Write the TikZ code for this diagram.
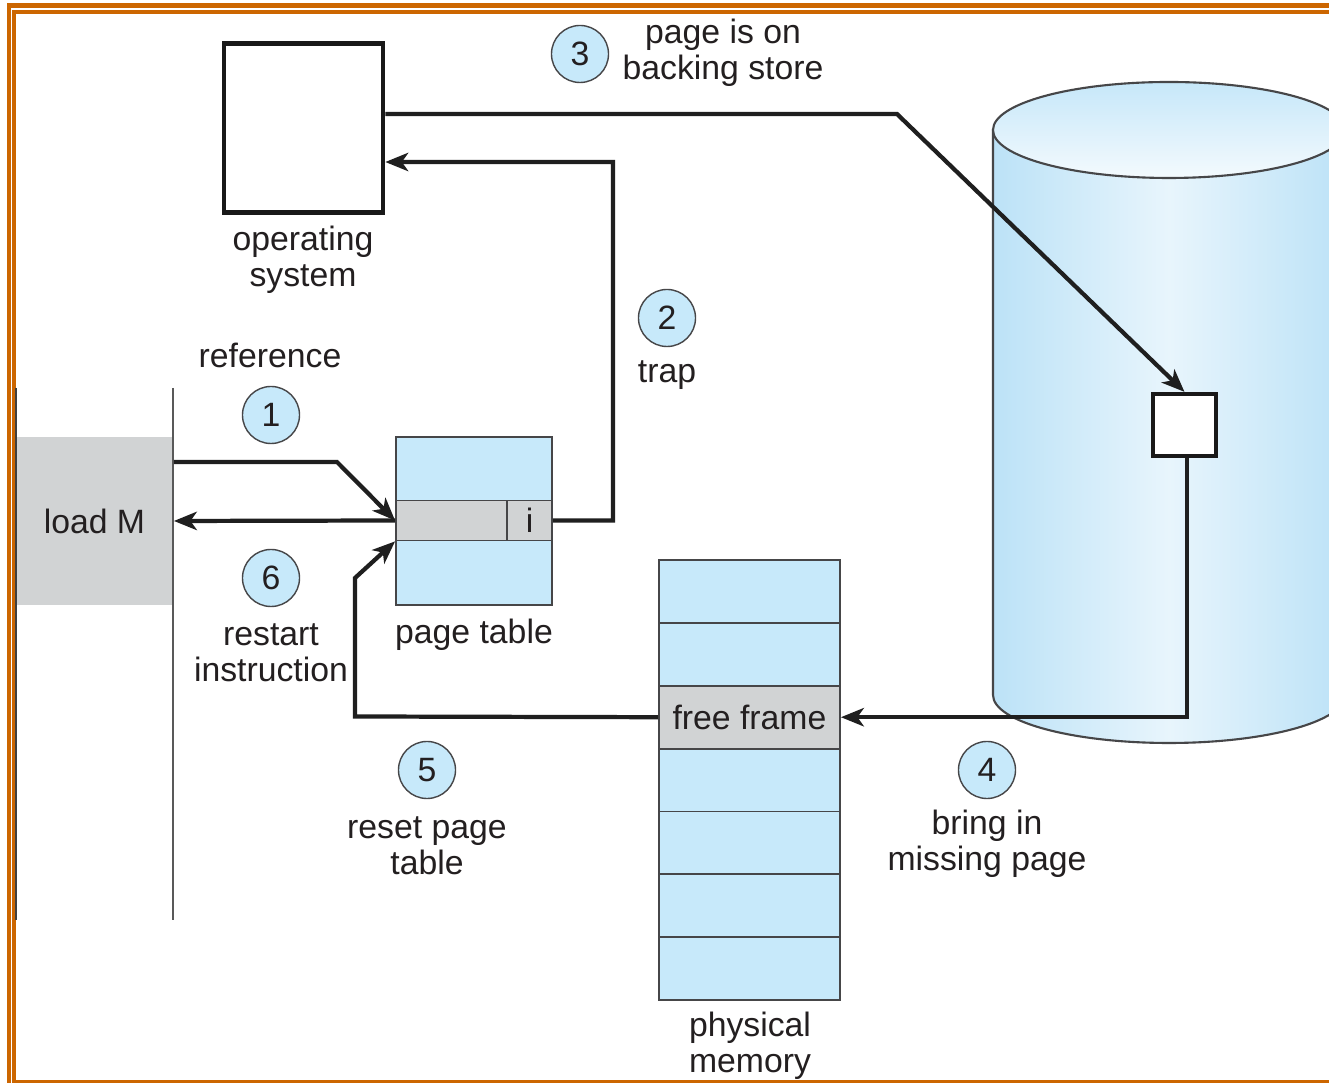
\documentclass[tikz,border=0pt]{standalone}
\usepackage{fontspec}
\setmainfont{Liberation Sans}
\usetikzlibrary{arrows.meta}

\definecolor{pageblue}{RGB}{199,233,250}
\definecolor{rowgray}{RGB}{209,211,212}
\definecolor{framebrown}{RGB}{204,102,0}
\definecolor{inkgray}{RGB}{35,31,32}
\definecolor{linegray}{RGB}{70,70,72}
\definecolor{cylside}{RGB}{188,226,247}
\definecolor{cylpale}{RGB}{232,245,252}
\definecolor{cyltop}{RGB}{198,231,249}

\tikzset{
  cell/.style={draw=linegray, line width=0.5pt, inner sep=0pt},
  memrow/.style={cell, fill=pageblue, minimum width=1.81cm, minimum height=0.6286cm},
  numcirc/.style={circle, draw=linegray, line width=0.4pt, fill=pageblue, minimum size=0.57cm, inner sep=0pt},
  caption/.style={align=center, inner sep=0pt},
  link/.style={line width=1.2pt, draw=black!88, line join=miter,
    -{Stealth[length=6.5pt,width=5.2pt,inset=1.8pt]}},
  frameline/.style={draw=framebrown, line width=1.4pt}
}

\begin{document}
\begin{tikzpicture}[x=0.01cm, y=-0.01cm, text=inkgray,
  font=\fontsize{9.6}{10.2}\selectfont]
\clip (0,0) rectangle (1329,1083);
\fill[white] (0,0) rectangle (1329,1083);

% frame
\draw[frameline] (9,5.5) rectangle (1350,1110);
\draw[frameline] (14,12) rectangle (1345,1082);

% backing store
\shade[left color=cylside, right color=cylside, middle color=cylpale, draw=linegray, line width=0.6pt]
  (993,130) -- (993,695) arc[start angle=180, end angle=0, x radius=176, y radius=48] -- (1345,130) -- cycle;
\shade[top color=cyltop, bottom color=cylpale!50!white, draw=linegray, line width=0.6pt]
  (1169,130) ellipse[x radius=176, y radius=48];
\node[draw=black!90, line width=1.2pt, fill=white, minimum width=0.63cm, minimum height=0.62cm] (blk) at (1184.5,425) {};

% operating system
\node[draw=black!90, line width=1.3pt, minimum width=1.59cm, minimum height=1.69cm] (os) at (303.5,128) {};
\node[caption] (oslbl) at (303,260) {operating\\system};

% process with load M
\node[cell, draw=none, fill=rowgray, minimum width=1.57cm, minimum height=1.68cm] (loadM) at (94.5,521) {load M};
\draw[line width=0.8pt, black!75] (16,388) -- (16,920);
\draw[line width=0.6pt, black!65] (173,388) -- (173,920);

% page table
\node[cell, fill=pageblue, minimum width=1.56cm, minimum height=1.68cm] (pt) at (474,521) {};
\node[cell, fill=rowgray, minimum width=1.56cm, minimum height=0.40cm] (ptrow) at (474,520.5) {};
\node[cell, fill=rowgray, minimum width=0.45cm, minimum height=0.40cm] (ptbit) at (529.5,520.5) {i};
\node[caption] (ptlbl) at (474,635) {page table};

% physical memory
\foreach \r in {0,...,6}
  \node[memrow] (mem\r) at (749.5,{591.5+62.86*\r}) {};
\node[memrow, fill=rowgray] (free) at (mem2) {free frame};
\node[caption] (memlbl) at (750,1046) {physical\\memory};

% steps
\node[numcirc] (c1) at (271,415) {1};
\node[numcirc] (c2) at (667,318) {2};
\node[numcirc] (c3) at (580,54) {3};
\node[numcirc] (c4) at (987,770) {4};
\node[numcirc] (c5) at (427,770) {5};
\node[numcirc] (c6) at (271,578) {6};

\node[caption] (reflbl) at (270,355) {reference};
\node[caption] (traplbl) at (667,375) {trap};
\node[caption] (storelbl) at (723,53) {page is on\\backing store};
\node[caption] (bringlbl) at (987,844) {bring in\\missing page};
\node[caption] (resetlbl) at (427,846) {reset page\\table};
\node[caption] (restartlbl) at (271,653) {restart\\instruction};

% connectors
\draw[link] ([yshift=0.59cm]loadM.east) -- (337,462) -- (ptrow.west);
\draw[link] (ptbit.east) -- (613,520.5) -- (613,162) -- ([yshift=-0.34cm]os.east);
\draw[link] ([yshift=0.14cm]os.east) -- (897,114) -- (blk.north);
\draw[link] ([xshift=0.025cm]blk.south) -- ([xshift=0.025cm]blk.south |- free.east) -- (free.east);
\draw[link] (free.west) -- (355,716.5) -- (355,578) -- (ptrow.south west);
\draw[link] (ptrow.west) -- (loadM.east);
\end{tikzpicture}
\end{document}
